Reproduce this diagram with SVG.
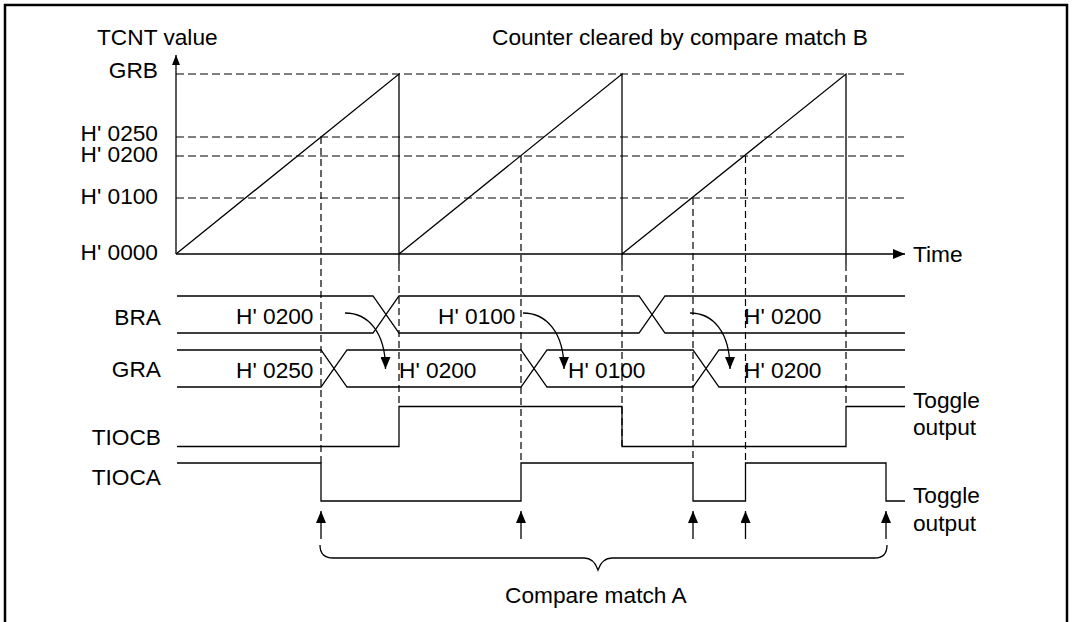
<svg xmlns="http://www.w3.org/2000/svg" width="1072" height="622" viewBox="0 0 1072 622">
<style>
text{font-family:"Liberation Sans",Arial,sans-serif;font-size:22.7px;fill:#000}
.e{text-anchor:end}
.s{fill:none;stroke:#000;stroke-width:1.3}
.d{fill:none;stroke:#000;stroke-width:1.2;stroke-dasharray:8,4}
.dv{fill:none;stroke:#000;stroke-width:1.2;stroke-dasharray:7,4}
</style>
<defs>
<marker id="ah" markerUnits="userSpaceOnUse" viewBox="0 0 12 10" refX="12" refY="5" markerWidth="12" markerHeight="10" orient="auto">
<path d="M0,0 L12,5 L0,10 z" fill="#000"/>
</marker>
<marker id="ax" markerUnits="userSpaceOnUse" viewBox="0 0 10 8" refX="10" refY="4" markerWidth="10" markerHeight="8" orient="auto">
<path d="M0,0 L10,4 L0,8 z" fill="#000"/>
</marker>
</defs>
<rect x="5" y="5" width="1062" height="640" fill="#fff" stroke="#000" stroke-width="2.5"/>

<g id="labels">
<text x="97" y="45">TCNT value</text>
<text x="492" y="45">Counter cleared by compare match B</text>
<text class="e" x="158" y="77.5">GRB</text>
<text class="e" x="158" y="141" font-size="22">H' 0250</text>
<text class="e" x="158" y="162" font-size="22">H' 0200</text>
<text class="e" x="158" y="204">H' 0100</text>
<text class="e" x="158" y="260">H' 0000</text>
<text x="913" y="262">Time</text>
<text class="e" x="161" y="325">BRA</text>
<text class="e" x="161" y="377">GRA</text>
<text class="e" x="161" y="445">TIOCB</text>
<text class="e" x="161" y="485">TIOCA</text>
<text x="913" y="408">Toggle</text>
<text x="913" y="435">output</text>
<text x="913" y="503">Toggle</text>
<text x="913" y="531">output</text>
<text x="505" y="603">Compare match A</text>
</g>

<g id="grid">
<path class="d" d="M176,74 H905 M176,137 H905 M176,156 H905 M176,198 H905"/>
<path class="dv" d="M321,137 V463 M399,264 V407 M521,156 V463 M622,264 V446 M693,198 V463 M745.5,156 V463 M846,264 V407"/>
</g>

<g id="axes">
<path class="s" d="M176,254 V55" marker-end="url(#ax)"/>
<path class="s" d="M176,254 H905" marker-end="url(#ah)"/>
</g>

<g id="tcnt">
<path class="s" d="M176,254 L399,74 V264 M399,254 L622,74 V264 M622,254 L846,74 V264"/>
</g>

<g id="bra">
<path class="s" d="M177,296 H373 L399,333 H639 L665,296 H905 M177,333 H373 L399,296 H639 L665,333 H905"/>
<text x="236" y="324">H' 0200</text>
<text x="438" y="324">H' 0100</text>
<text x="744" y="324">H' 0200</text>
</g>

<g id="gra">
<path class="s" d="M177,350 H321 L347,387 H521 L547,350 H693 L719,387 H905 M177,387 H321 L347,350 H521 L547,387 H693 L719,350 H905"/>
<text x="236" y="378">H' 0250</text>
<text x="399" y="378">H' 0200</text>
<text x="568" y="378">H' 0100</text>
<text x="744" y="378">H' 0200</text>
</g>

<g id="tiocb">
<path class="s" d="M177,446.5 H399 V406.5 H622 V446.5 H846 V406.5 H905"/>
</g>

<g id="tioca">
<path class="s" d="M177,463 H321 V501 H521 V463 H693 V501 H745.5 V463 H886 V501 H905"/>
</g>

<g id="connectors">
<path class="s" d="M345,313 C368,313 385.5,332 385.5,369" marker-end="url(#ah)"/>
<path class="s" d="M523,313 C546,313 564,332 564,369" marker-end="url(#ah)"/>
<path class="s" d="M690,313 C713,313 730,332 730,369" marker-end="url(#ah)"/>
<path class="s" d="M321,539 V511" marker-end="url(#ah)"/>
<path class="s" d="M521,539 V511" marker-end="url(#ah)"/>
<path class="s" d="M693,539 V511" marker-end="url(#ah)"/>
<path class="s" d="M745.5,539 V511" marker-end="url(#ah)"/>
<path class="s" d="M886,539 V511" marker-end="url(#ah)"/>
<path class="s" d="M320,545 Q320,558 333,558 L584,558 Q594,558 598,570 Q602,558 612,558 L875,558 Q887,558 887,545"/>
</g>
</svg>
